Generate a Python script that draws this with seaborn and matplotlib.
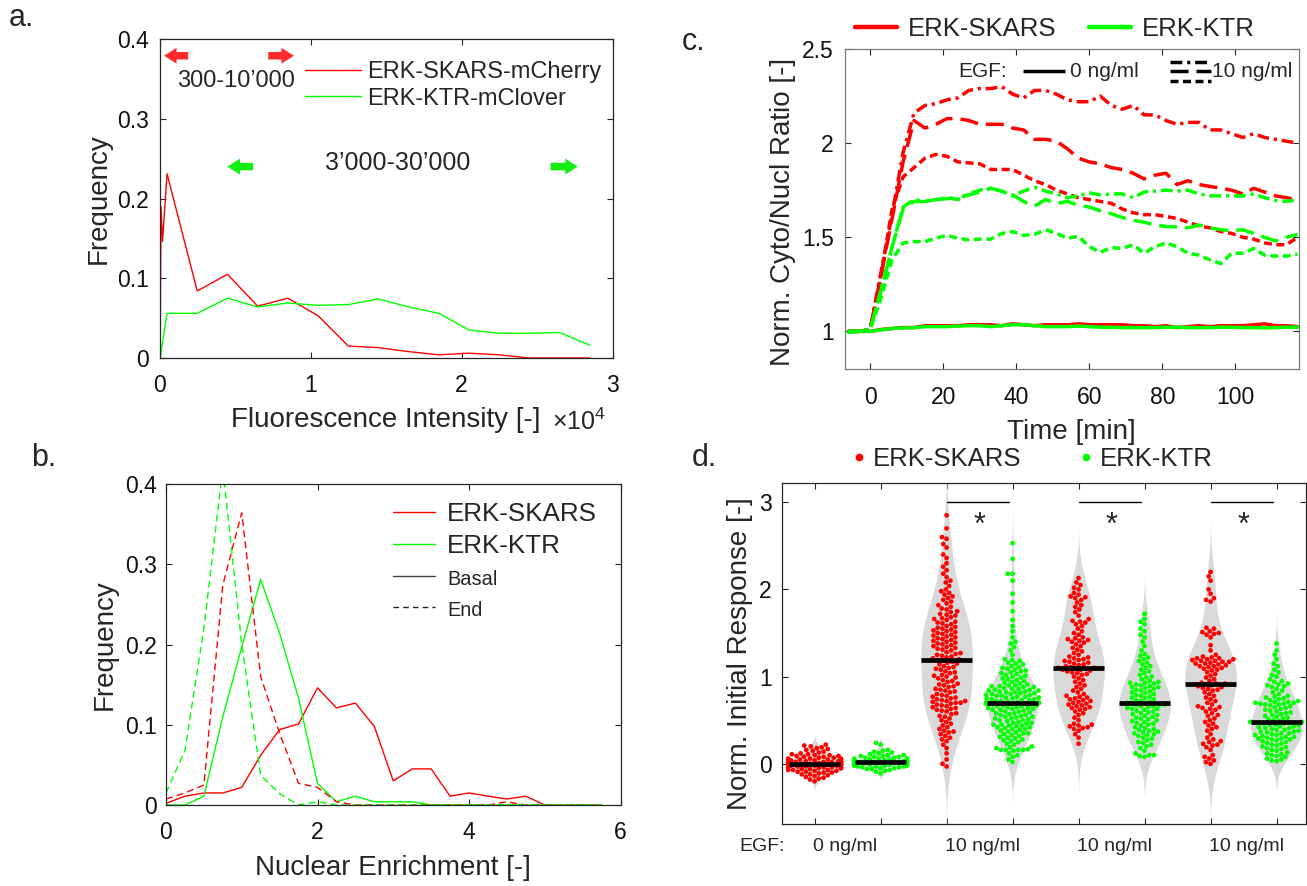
import numpy as np
import pandas as pd
import matplotlib
matplotlib.use("Agg")
import matplotlib.pyplot as plt
import matplotlib.transforms as mtransforms
from matplotlib.lines import Line2D
import seaborn as sns

# ---------------- panel a: fluorescence intensity histograms (x in 1e4) ----------------
a_skars_x = [0.004, 0.010, 0.020, 0.05, 0.25, 0.45, 0.65, 0.85, 1.05, 1.25, 1.45, 1.65, 1.85, 2.05, 2.25, 2.45, 2.65, 2.85]
a_skars_y = [0.0, 0.190, 0.146, 0.231, 0.084, 0.105, 0.065, 0.075, 0.053, 0.015, 0.013, 0.008, 0.004, 0.006, 0.004, 0.0, 0.0, 0.0]
a_ktr_x = [0.004, 0.05, 0.25, 0.45, 0.65, 0.85, 1.05, 1.25, 1.45, 1.65, 1.85, 2.05, 2.25, 2.45, 2.65, 2.85]
a_ktr_y = [0.0, 0.056, 0.056, 0.075, 0.064, 0.069, 0.066, 0.067, 0.074, 0.064, 0.056, 0.035, 0.031, 0.031, 0.032, 0.016]
a_labels = ["ERK-SKARS-mCherry", "ERK-KTR-mClover"]
a_range_skars = "300-10\u2019000"
a_range_ktr = "3\u2019000-30\u2019000"

# ---------------- panel b: nuclear enrichment histograms ----------------
b_x = [0.0, 0.25, 0.5, 0.75, 1.0, 1.25, 1.5, 1.75, 2.0, 2.25, 2.5, 2.75,
       3.0, 3.25, 3.5, 3.75, 4.0, 4.25, 4.5, 4.75, 5.0, 5.25, 5.5, 5.75]
b_skars_basal = [0.002, 0.011, 0.015, 0.015, 0.022, 0.062, 0.094, 0.101, 0.146, 0.121, 0.127, 0.098,
                 0.030, 0.045, 0.045, 0.011, 0.015, 0.011, 0.0075, 0.011, 0.0, 0.0, 0.0, 0.0]
b_ktr_basal = [0.0, 0.0, 0.011, 0.110, 0.197, 0.281, 0.214, 0.133, 0.027, 0.004, 0.011, 0.004,
               0.004, 0.004, 0.0, 0.0, 0.0, 0.0, 0.0, 0.0, 0.0, 0.0, 0.0, 0.0]
b_skars_end = [0.0075, 0.015, 0.025, 0.274, 0.364, 0.160, 0.089, 0.027, 0.022, 0.004, 0.0, 0.0,
               0.0, 0.0, 0.0, 0.0, 0.0, 0.0, 0.004, 0.0, 0.0, 0.0, 0.0, 0.0]
b_ktr_end = [0.015, 0.068, 0.220, 0.420, 0.200, 0.037, 0.014, 0.0, 0.004, 0.0, 0.0, 0.0,
             0.0, 0.0, 0.0, 0.0, 0.0, 0.0, 0.0, 0.0, 0.0, 0.0, 0.0, 0.0]

# ---------------- panel c: time courses ----------------
c_time = [-6, -3, 0, 3, 6, 9, 12, 15, 18, 21, 24, 27, 30, 33, 36, 39, 42, 45, 48, 51, 54,
          57, 60, 63, 66, 69, 72, 75, 78, 81, 84, 87, 90, 93, 96, 99, 102, 105, 108, 111, 114, 117]
c_skars_0 = [1.0, 1.0, 1.0, 1.01, 1.015, 1.02, 1.02, 1.03, 1.03, 1.03, 1.03, 1.035, 1.035, 1.035, 1.03, 1.04, 1.035,
             1.03, 1.035, 1.035, 1.035, 1.04, 1.035, 1.035, 1.035, 1.035, 1.03, 1.03, 1.025, 1.03, 1.02, 1.025,
             1.03, 1.025, 1.03, 1.03, 1.03, 1.035, 1.04, 1.03, 1.03, 1.025]
c_ktr_0 = [0.995, 1.0, 1.0, 1.008, 1.015, 1.018, 1.02, 1.025, 1.025, 1.025, 1.028, 1.03, 1.03, 1.025, 1.03, 1.035,
           1.035, 1.03, 1.025, 1.025, 1.025, 1.028, 1.025, 1.022, 1.022, 1.02, 1.02, 1.02, 1.02, 1.022, 1.022,
           1.02, 1.02, 1.02, 1.022, 1.022, 1.02, 1.02, 1.018, 1.02, 1.022, 1.022]
c_skars_10a = [1.0, 1.0, 1.01, 1.32, 1.62, 1.95, 2.16, 2.20, 2.21, 2.23, 2.24, 2.28, 2.29, 2.29, 2.30, 2.26, 2.24,
               2.28, 2.28, 2.26, 2.23, 2.22, 2.22, 2.25, 2.20, 2.18, 2.20, 2.15, 2.15, 2.12, 2.10, 2.11, 2.11,
               2.07, 2.07, 2.05, 2.03, 2.05, 2.03, 2.02, 2.01, 2.0]
c_skars_10b = [1.0, 1.0, 1.01, 1.30, 1.60, 1.90, 2.12, 2.08, 2.10, 2.13, 2.13, 2.12, 2.10, 2.10, 2.10, 2.08, 2.07,
               2.02, 2.02, 2.01, 1.97, 1.92, 1.90, 1.89, 1.87, 1.86, 1.84, 1.81, 1.83, 1.84, 1.78, 1.80, 1.78,
               1.77, 1.76, 1.75, 1.73, 1.76, 1.74, 1.72, 1.71, 1.70]
c_skars_10c = [1.0, 1.0, 1.01, 1.30, 1.65, 1.82, 1.87, 1.92, 1.94, 1.93, 1.90, 1.895, 1.89, 1.86, 1.86, 1.86, 1.83,
               1.80, 1.78, 1.75, 1.73, 1.71, 1.70, 1.69, 1.68, 1.65, 1.63, 1.62, 1.62, 1.61, 1.60, 1.58, 1.56,
               1.55, 1.53, 1.52, 1.50, 1.49, 1.47, 1.46, 1.46, 1.50]
c_ktr_10a = [1.0, 1.0, 1.01, 1.22, 1.45, 1.66, 1.70, 1.69, 1.70, 1.71, 1.70, 1.73, 1.75, 1.76, 1.745, 1.72, 1.745,
             1.765, 1.745, 1.73, 1.71, 1.72, 1.735, 1.725, 1.73, 1.73, 1.71, 1.74, 1.745, 1.75, 1.745, 1.75,
             1.73, 1.72, 1.72, 1.72, 1.72, 1.73, 1.71, 1.695, 1.69, 1.70]
c_ktr_10b = [1.0, 1.0, 1.01, 1.22, 1.45, 1.65, 1.69, 1.69, 1.70, 1.705, 1.71, 1.725, 1.74, 1.76, 1.745, 1.725, 1.69,
             1.665, 1.70, 1.68, 1.69, 1.67, 1.66, 1.64, 1.625, 1.605, 1.59, 1.58, 1.565, 1.557, 1.555, 1.55,
             1.565, 1.55, 1.54, 1.535, 1.54, 1.52, 1.50, 1.48, 1.50, 1.515]
c_ktr_10c = [1.0, 1.0, 1.01, 1.18, 1.38, 1.47, 1.477, 1.477, 1.495, 1.51, 1.495, 1.486, 1.49, 1.49, 1.52, 1.53,
             1.51, 1.515, 1.54, 1.52, 1.495, 1.505, 1.45, 1.42, 1.445, 1.44, 1.46, 1.415, 1.45, 1.47, 1.45,
             1.415, 1.405, 1.38, 1.36, 1.415, 1.415, 1.44, 1.405, 1.40, 1.40, 1.41]

# ---------------- panel d: initial responses per cell ----------------
d_skars_0 = ("-0.20 -0.18 -0.17 -0.16 -0.15 -0.14 -0.13 -0.12 -0.12 -0.11 -0.10 -0.10 -0.09 -0.09 -0.08 -0.08 "
             "-0.07 -0.07 -0.07 -0.06 -0.06 -0.05 -0.05 -0.05 -0.04 -0.04 -0.04 -0.03 -0.03 -0.03 -0.02 -0.02 "
             "-0.02 -0.01 -0.01 -0.01 -0.01 0.00 0.00 0.00 0.00 0.00 0.00 0.01 0.01 0.01 0.01 0.02 0.02 0.02 "
             "0.03 0.03 0.03 0.04 0.04 0.04 0.05 0.05 0.05 0.06 0.06 0.06 0.07 0.07 0.08 0.08 0.09 0.09 0.10 "
             "0.10 0.11 0.11 0.12 0.13 0.14 0.15 0.16 0.17 0.18 0.19 0.20 0.21 0.22")
d_ktr_0 = ("-0.11 -0.09 -0.08 -0.07 -0.06 -0.06 -0.05 -0.05 -0.04 -0.04 -0.03 -0.03 -0.03 -0.02 -0.02 -0.02 "
           "-0.01 -0.01 -0.01 -0.01 0.00 0.00 0.00 0.00 0.01 0.01 0.01 0.01 0.02 0.02 0.02 0.02 0.02 0.03 0.03 "
           "0.03 0.03 0.04 0.04 0.04 0.05 0.05 0.05 0.06 0.06 0.06 0.07 0.07 0.08 0.08 0.09 0.09 0.10 0.10 "
           "0.11 0.12 0.13 0.14 0.15 0.16 0.22 0.24")
d_skars_10a = ("-0.03 0.00 0.05 0.12 0.18 0.22 0.26 0.28 0.30 0.32 0.34 0.36 0.37 0.38 0.40 0.42 "
               "0.44 0.46 0.48 0.50 0.52 0.54 0.55 0.57 0.58 0.60 0.61 0.62 0.63 0.64 0.65 0.66 0.67 0.68 0.69 "
               "0.70 0.70 0.71 0.72 0.72 0.73 0.74 0.75 0.76 0.77 0.78 0.79 0.80 0.82 0.83 0.84 0.85 0.86 0.88 "
               "0.89 0.90 0.91 0.92 0.94 0.95 0.96 0.98 0.99 1.00 1.01 1.02 1.04 1.05 1.06 1.08 1.09 1.10 1.11 "
               "1.12 1.14 1.15 1.16 1.17 1.18 1.19 1.20 1.21 1.22 1.23 1.24 1.25 1.26 1.27 1.28 1.30 1.31 1.32 "
               "1.33 1.34 1.35 1.36 1.37 1.38 1.39 1.40 1.41 1.42 1.43 1.44 1.45 1.46 1.47 1.48 1.49 1.50 1.51 "
               "1.52 1.53 1.54 1.55 1.56 1.57 1.58 1.60 1.61 1.62 1.63 1.65 1.66 1.67 1.68 1.70 1.71 1.72 1.74 "
               "1.75 1.77 1.78 1.80 1.82 1.84 1.86 1.88 1.90 1.92 1.94 1.96 1.98 2.00 2.04 2.08 2.10 2.14 2.18 "
               "2.22 2.26 2.30 2.36 2.40 2.48 2.52 2.58 2.60 2.70 2.85")
d_ktr_10a = ("0.02 0.05 0.08 0.10 0.12 0.15 0.16 0.16 0.16 0.16 0.17 0.18 0.19 0.20 0.22 0.23 0.25 "
             "0.26 0.27 0.28 0.29 0.30 0.31 0.32 0.33 0.34 0.35 0.35 0.36 0.37 0.38 0.39 0.40 0.40 0.41 0.42 "
             "0.42 0.43 0.44 0.44 0.45 0.45 0.46 0.47 0.47 0.48 0.49 0.50 0.50 0.51 0.52 0.52 0.53 0.54 0.54 "
             "0.55 0.56 0.56 0.57 0.58 0.58 0.59 0.60 0.60 0.61 0.62 0.62 0.63 0.63 0.64 0.64 0.65 0.65 0.66 "
             "0.66 0.67 0.67 0.68 0.68 0.69 0.69 0.69 0.70 0.70 0.70 0.70 0.71 0.71 0.72 0.72 0.73 0.73 0.74 "
             "0.74 0.75 0.75 0.76 0.76 0.77 0.77 0.78 0.78 0.79 0.79 0.80 0.80 0.81 0.81 0.82 0.82 0.83 0.83 "
             "0.84 0.84 0.85 0.85 0.86 0.86 0.87 0.88 0.88 0.89 0.89 0.90 0.90 0.91 0.92 0.93 0.94 0.95 0.96 "
             "0.97 0.98 0.99 1.00 1.01 1.02 1.03 1.04 1.05 1.06 1.07 1.08 1.09 1.10 1.11 1.12 1.14 1.15 1.16 "
             "1.18 1.19 1.20 1.25 1.30 1.34 1.38 1.40 1.45 1.52 1.58 1.65 1.75 1.85 1.95 2.10 2.18 2.18 2.35 2.53")
d_skars_10b = ("0.23 0.30 0.34 0.38 0.40 0.41 0.42 0.43 0.44 0.45 0.46 0.50 0.53 0.56 0.58 0.60 0.62 0.63 0.64 "
               "0.65 0.66 0.67 0.68 0.69 0.70 0.71 0.72 0.73 0.74 0.75 0.76 0.77 0.78 0.80 0.82 0.84 0.86 0.88 "
               "0.90 0.92 0.94 0.96 0.98 1.00 1.02 1.03 1.04 1.05 1.06 1.07 1.08 1.08 1.09 1.09 1.10 1.10 1.11 "
               "1.12 1.13 1.14 1.15 1.16 1.17 1.18 1.19 1.20 1.21 1.22 1.23 1.25 1.27 1.29 1.31 1.33 1.35 1.37 "
               "1.39 1.40 1.41 1.42 1.43 1.44 1.45 1.48 1.50 1.52 1.55 1.58 1.60 1.62 1.63 1.64 1.66 1.70 1.74 "
               "1.77 1.80 1.82 1.85 1.88 1.90 1.91 1.92 1.94 1.96 2.00 2.02 2.05 2.08 2.13")
d_ktr_10b = ("0.08 0.09 0.10 0.10 0.12 0.15 0.18 0.20 0.22 0.24 0.25 0.27 0.29 0.30 0.32 0.33 0.34 0.35 0.36 "
             "0.37 0.38 0.39 0.40 0.41 0.42 0.44 0.45 0.46 0.47 0.48 0.49 0.50 0.51 0.52 0.53 0.54 0.55 0.56 "
             "0.57 0.58 0.59 0.60 0.61 0.62 0.63 0.63 0.64 0.65 0.66 0.66 0.67 0.68 0.68 0.69 0.70 0.70 0.71 "
             "0.72 0.73 0.74 0.75 0.76 0.77 0.78 0.79 0.80 0.81 0.82 0.83 0.84 0.85 0.86 0.87 0.88 0.88 0.89 "
             "0.90 0.91 0.92 0.93 0.93 0.94 0.95 0.97 0.99 1.00 1.02 1.04 1.06 1.08 1.10 1.12 1.14 1.16 1.18 "
             "1.20 1.22 1.24 1.26 1.30 1.35 1.40 1.45 1.48 1.52 1.55 1.60 1.63 1.66 1.72")
d_skars_10c = ("0.00 0.02 0.04 0.06 0.08 0.10 0.16 0.19 0.21 0.22 0.23 0.25 0.26 0.28 0.30 0.34 0.38 0.40 0.42 "
               "0.44 0.46 0.48 0.50 0.52 0.55 0.56 0.58 0.60 0.62 0.63 0.64 0.65 0.66 0.68 0.70 0.72 0.74 0.76 "
               "0.78 0.80 0.82 0.84 0.85 0.86 0.87 0.88 0.89 0.90 0.91 0.92 0.92 0.93 0.95 0.97 0.99 1.01 1.03 "
               "1.05 1.07 1.08 1.09 1.10 1.11 1.12 1.12 1.13 1.14 1.15 1.15 1.16 1.17 1.17 1.18 1.18 1.19 1.20 "
               "1.20 1.21 1.21 1.22 1.23 1.25 1.30 1.36 1.45 1.48 1.49 1.50 1.51 1.52 1.55 1.56 1.86 1.88 1.90 "
               "1.95 2.00 2.10 2.15 2.20")
d_ktr_10c = ("0.03 0.04 0.05 0.06 0.08 0.09 0.10 0.11 0.12 0.13 0.15 0.16 0.17 0.18 0.19 0.20 0.21 0.22 0.23 "
             "0.24 0.25 0.26 0.27 0.28 0.28 0.29 0.29 0.30 0.31 0.31 0.32 0.33 0.33 0.34 0.35 0.35 0.36 0.37 "
             "0.37 0.38 0.39 0.39 0.40 0.41 0.41 0.42 0.43 0.43 0.44 0.45 0.45 0.46 0.46 0.47 0.47 0.48 0.48 "
             "0.48 0.49 0.50 0.51 0.52 0.53 0.54 0.55 0.56 0.57 0.58 0.59 0.60 0.61 0.62 0.63 0.64 0.65 0.66 "
             "0.67 0.68 0.68 0.69 0.69 0.70 0.70 0.71 0.71 0.72 0.73 0.74 0.75 0.76 0.77 0.78 0.80 0.82 0.84 "
             "0.86 0.88 0.89 0.90 0.91 0.92 0.94 0.95 0.97 1.00 1.02 1.05 1.08 1.12 1.15 1.20 1.25 1.30 1.38")
d_groups = ["0 SKARS", "0 KTR", "10a SKARS", "10a KTR", "10b SKARS", "10b KTR", "10c SKARS", "10c KTR"]
d_series = [d_skars_0, d_ktr_0, d_skars_10a, d_ktr_10a, d_skars_10b, d_ktr_10b, d_skars_10c, d_ktr_10c]
d_sensor = ["ERK-SKARS", "ERK-KTR"] * 4
d_egf_labels = ["0 ng/ml", "10 ng/ml", "10 ng/ml", "10 ng/ml"]
d_sig_pairs = [(2, 3), (4, 5), (6, 7)]

RED = "#ff0000"
GREEN = "#00ff00"
AX_COL = "#262626"

# ---------------- figure ----------------
sns.set_theme(style="ticks")
plt.rcParams["font.family"] = ["Liberation Sans", "DejaVu Sans"]
plt.rcParams["mathtext.fontset"] = "custom"
plt.rcParams["mathtext.rm"] = "Liberation Sans"
plt.rcParams["mathtext.it"] = "Liberation Sans"
plt.rcParams["axes.linewidth"] = 0.9

W, H = 1307, 886
fig = plt.figure(figsize=(W / 100, H / 100), dpi=100)
fig.patch.set_facecolor("white")


def rect(l, t, r, b):
    return [l / W, 1 - b / H, (r - l) / W, (b - t) / H]


axA = fig.add_axes(rect(159.5, 39, 612.5, 358))
axB = fig.add_axes(rect(166, 484, 620.5, 805))
axC = fig.add_axes(rect(845, 49, 1298.6, 369))
axD = fig.add_axes(rect(781.6, 483, 1306.3, 824))


def style(ax, ylab_pad=7.5, spine_col=AX_COL):
    ax.tick_params(direction="in", top=True, right=True, length=4, width=0.8,
                   color=AX_COL, labelcolor="#111111", labelsize=16.5)
    ax.tick_params(axis="x", pad=11.5)
    ax.tick_params(axis="y", pad=ylab_pad)
    for s in ax.spines.values():
        s.set_color(spine_col)
        s.set_linewidth(0.9)
        s.set_visible(True)
    ax.grid(False)


# ---------------- panel a ----------------
sns.lineplot(x=a_skars_x, y=a_skars_y, ax=axA, color=RED, lw=1.0, sort=False, errorbar=None, label=a_labels[0])
sns.lineplot(x=a_ktr_x, y=a_ktr_y, ax=axA, color=GREEN, lw=1.0, sort=False, errorbar=None, label=a_labels[1])
axA.set_xlim(0, 3)
axA.set_ylim(0, 0.4)
axA.set_xticks([0, 1, 2, 3])
axA.set_yticks([0, 0.1, 0.2, 0.3, 0.4])
axA.set_yticklabels(["0", "0.1", "0.2", "0.3", "0.4"])
style(axA)
axA.set_xlabel("Fluorescence Intensity [-]", fontsize=20)
axA.set_ylabel("Frequency", fontsize=20)
axA.xaxis.set_label_coords(0.5, -0.154)
axA.yaxis.set_label_coords(-0.106, 0.5)
axA.text(0.985, -0.2257, r"$\times10^{4}$", transform=axA.transAxes, ha="right", va="baseline", fontsize=18)
legA = axA.legend(loc="upper left", bbox_to_anchor=(0.321, 0.931), frameon=False, fontsize=17,
                  handlelength=2.37, handletextpad=0.25, labelspacing=0.2, borderpad=0, borderaxespad=0)
arrow_kw = dict(arrowstyle="simple,head_length=0.75,head_width=0.95,tail_width=0.45", shrinkA=0, shrinkB=0, lw=0)
axA.annotate("", xy=(0.03, 0.379), xytext=(0.19, 0.379), arrowprops=dict(fc="#ff2b2b", ec="none", **arrow_kw))
axA.annotate("", xy=(0.89, 0.379), xytext=(0.72, 0.379), arrowprops=dict(fc="#ff2b2b", ec="none", **arrow_kw))
axA.annotate("", xy=(0.45, 0.24), xytext=(0.62, 0.24), arrowprops=dict(fc="#11ee11", ec="none", **arrow_kw))
axA.annotate("", xy=(2.77, 0.24), xytext=(2.59, 0.24), arrowprops=dict(fc="#11ee11", ec="none", **arrow_kw))
axA.text(0.505, 0.347, a_range_skars, ha="center", va="center", fontsize=17)
axA.text(1.575, 0.245, a_range_ktr, ha="center", va="center", fontsize=18)

# ---------------- panel b ----------------
sns.lineplot(x=b_x, y=b_skars_basal, ax=axB, color=RED, lw=1.0, errorbar=None, sort=False)
sns.lineplot(x=b_x, y=b_ktr_basal, ax=axB, color=GREEN, lw=1.0, errorbar=None, sort=False)
sns.lineplot(x=b_x, y=b_skars_end, ax=axB, color=RED, lw=1.0, errorbar=None, sort=False, linestyle=(0, (5, 3)))
sns.lineplot(x=b_x, y=b_ktr_end, ax=axB, color=GREEN, lw=1.0, errorbar=None, sort=False, linestyle=(0, (5, 3)))
axB.set_xlim(0, 6)
axB.set_ylim(0, 0.4)
axB.set_xticks([0, 2, 4, 6])
axB.set_yticks([0, 0.1, 0.2, 0.3, 0.4])
axB.set_yticklabels(["0", "0.1", "0.2", "0.3", "0.4"])
style(axB, ylab_pad=6.5)
axB.set_xlabel("Nuclear Enrichment [-]", fontsize=20)
axB.set_ylabel("Frequency", fontsize=20)
axB.xaxis.set_label_coords(0.5, -0.156)
axB.yaxis.set_label_coords(-0.106, 0.5)
hB = [Line2D([], [], color=RED, lw=1.0), Line2D([], [], color=GREEN, lw=1.0),
      Line2D([], [], color="#404040", lw=1.0), Line2D([], [], color="#202020", lw=1.0, ls=(0, (4, 3)))]
legB = axB.legend(hB, ["ERK-SKARS", "ERK-KTR", "Basal", "End"], loc="upper left", bbox_to_anchor=(0.4995, 0.945),
                  frameon=False, fontsize=18.7, handlelength=1.62, handletextpad=0.46, labelspacing=0.33,
                  borderpad=0, borderaxespad=0)
for t in legB.get_texts()[2:]:
    t.set_fontsize(14.4)

# ---------------- panel c ----------------
LW_C = 2.5
ls_dashdot = (0, (3.4, 1.4, 0.9, 1.4))
ls_long = (0, (5.2, 2.3))
ls_short = (0, (2.3, 1.3))
c_lines = [
    (c_skars_0, RED, "-"), (c_ktr_0, GREEN, "-"),
    (c_skars_10c, RED, ls_short), (c_skars_10b, RED, ls_long), (c_skars_10a, RED, ls_dashdot),
    (c_ktr_10c, GREEN, ls_short), (c_ktr_10b, GREEN, ls_long), (c_ktr_10a, GREEN, ls_dashdot),
]
for vals, col, ls in c_lines:
    sns.lineplot(x=c_time, y=vals, ax=axC, color=col, lw=LW_C, linestyle=ls, errorbar=None, sort=False)
axC.set_xlim(-6.9, 117.3)
axC.set_ylim(0.8, 2.5)
axC.set_xticks([0, 20, 40, 60, 80, 100])
axC.set_yticks([1, 1.5, 2, 2.5])
axC.set_yticklabels(["1", "1.5", "2", "2.5"])
style(axC, ylab_pad=8, spine_col="#7a7a7a")
axC.tick_params(axis="x", pad=12.5)
axC.set_xlabel("Time [min]", fontsize=20)
axC.set_ylabel("Norm. Cyto/Nucl Ratio [-]", fontsize=20)
axC.xaxis.set_label_coords(0.5, -0.156)
axC.yaxis.set_label_coords(-0.108, 0.49)
hC = [Line2D([], [], color=RED, lw=3.2), Line2D([], [], color=GREEN, lw=3.2)]
axC.legend(hC, ["ERK-SKARS", "ERK-KTR"], loc="center", bbox_to_anchor=(0.463, 1.0625), ncol=2, frameon=False,
           fontsize=18.5, handlelength=1.63, handletextpad=0.43, columnspacing=1.25, borderpad=0, borderaxespad=0)
# inner EGF key
tA = axC.transAxes
axC.text(0.249, 0.931, "EGF:", transform=tA, ha="left", va="center", fontsize=15)
axC.plot([0.392, 0.485], [0.931, 0.931], transform=tA, color="black", lw=2.5, solid_capstyle="butt")
axC.text(0.497, 0.931, "0 ng/ml", transform=tA, ha="left", va="center", fontsize=15)
axC.plot([0.716, 0.807], [0.959, 0.959], transform=tA, color="black", lw=2.5, linestyle=ls_dashdot)
axC.plot([0.716, 0.807], [0.931, 0.931], transform=tA, color="black", lw=2.5, linestyle=ls_long)
axC.plot([0.716, 0.807], [0.900, 0.900], transform=tA, color="black", lw=2.5, linestyle=ls_short)
axC.text(0.809, 0.931, "10 ng/ml", transform=tA, ha="left", va="center", fontsize=15)

# ---------------- panel d ----------------
rows = []
for g, s, sens in zip(d_groups, d_series, d_sensor):
    for v in s.split():
        rows.append((g, float(v), sens))
dfD = pd.DataFrame(rows, columns=["group", "value", "sensor"])
sns.violinplot(data=dfD, x="group", y="value", order=d_groups, color="#d9d9d9", saturation=1, inner=None,
               linewidth=0, linecolor="#d9d9d9", density_norm="width", width=0.78, cut=2.5, bw_adjust=1.2, ax=axD)
sns.swarmplot(data=dfD, x="group", y="value", order=d_groups, hue="sensor",
              palette={"ERK-SKARS": RED, "ERK-KTR": GREEN}, size=3.4, linewidth=0, legend=False,
              warn_thresh=1.0, ax=axD, zorder=3)
for i, g in enumerate(d_groups):
    med = float(np.median(dfD.loc[dfD["group"] == g, "value"]))
    axD.plot([i - 0.39, i + 0.39], [med, med], color="black", lw=3.4, solid_capstyle="butt", zorder=5)
for (i, j) in d_sig_pairs:
    axD.plot([i, i + 0.95], [3.0, 3.0], color="black", lw=1.0, zorder=5)
    axD.text((i + j) / 2, 2.64, "*", ha="center", va="baseline", fontsize=22, zorder=5)
axD.set_xlim(-0.5, 7.45)
axD.set_ylim(-0.69, 3.22)
axD.set_xticks(range(8))
axD.set_xticklabels([])
axD.set_yticks([0, 1, 2, 3])
axD.set_xlabel("")
style(axD, ylab_pad=7)
axD.set_ylabel("Norm. Initial Response [-]", fontsize=20)
axD.yaxis.set_label_coords(-0.054, 0.5)
bt = mtransforms.blended_transform_factory(axD.transData, axD.transAxes)
axD.text(-0.45, -0.067, "EGF:", transform=bt, ha="right", va="center", fontsize=14, clip_on=False)
for k, lab in enumerate(d_egf_labels):
    axD.text(2 * k - 0.02, -0.067, lab, transform=bt, ha="left", va="center", fontsize=14, clip_on=False)
hD = [Line2D([], [], marker="o", ls="", color=RED, markersize=4.5),
      Line2D([], [], marker="o", ls="", color=GREEN, markersize=4.5)]
axD.legend(hD, ["ERK-SKARS", "ERK-KTR"], loc="center", bbox_to_anchor=(0.4785, 1.0704), ncol=2, frameon=False,
           fontsize=18.5, handlelength=0.5, handletextpad=0.3, columnspacing=2.24, borderpad=0, borderaxespad=0)

# ---------------- panel letters ----------------
for lab, x, y in [("a.", 21, 18), ("b.", 43.5, 458), ("c.", 694, 42), ("d.", 704.5, 458)]:
    fig.text(x / W, 1 - y / H, lab, ha="center", va="center", fontsize=22)

fig.savefig("out.png", dpi=100, facecolor="white")
